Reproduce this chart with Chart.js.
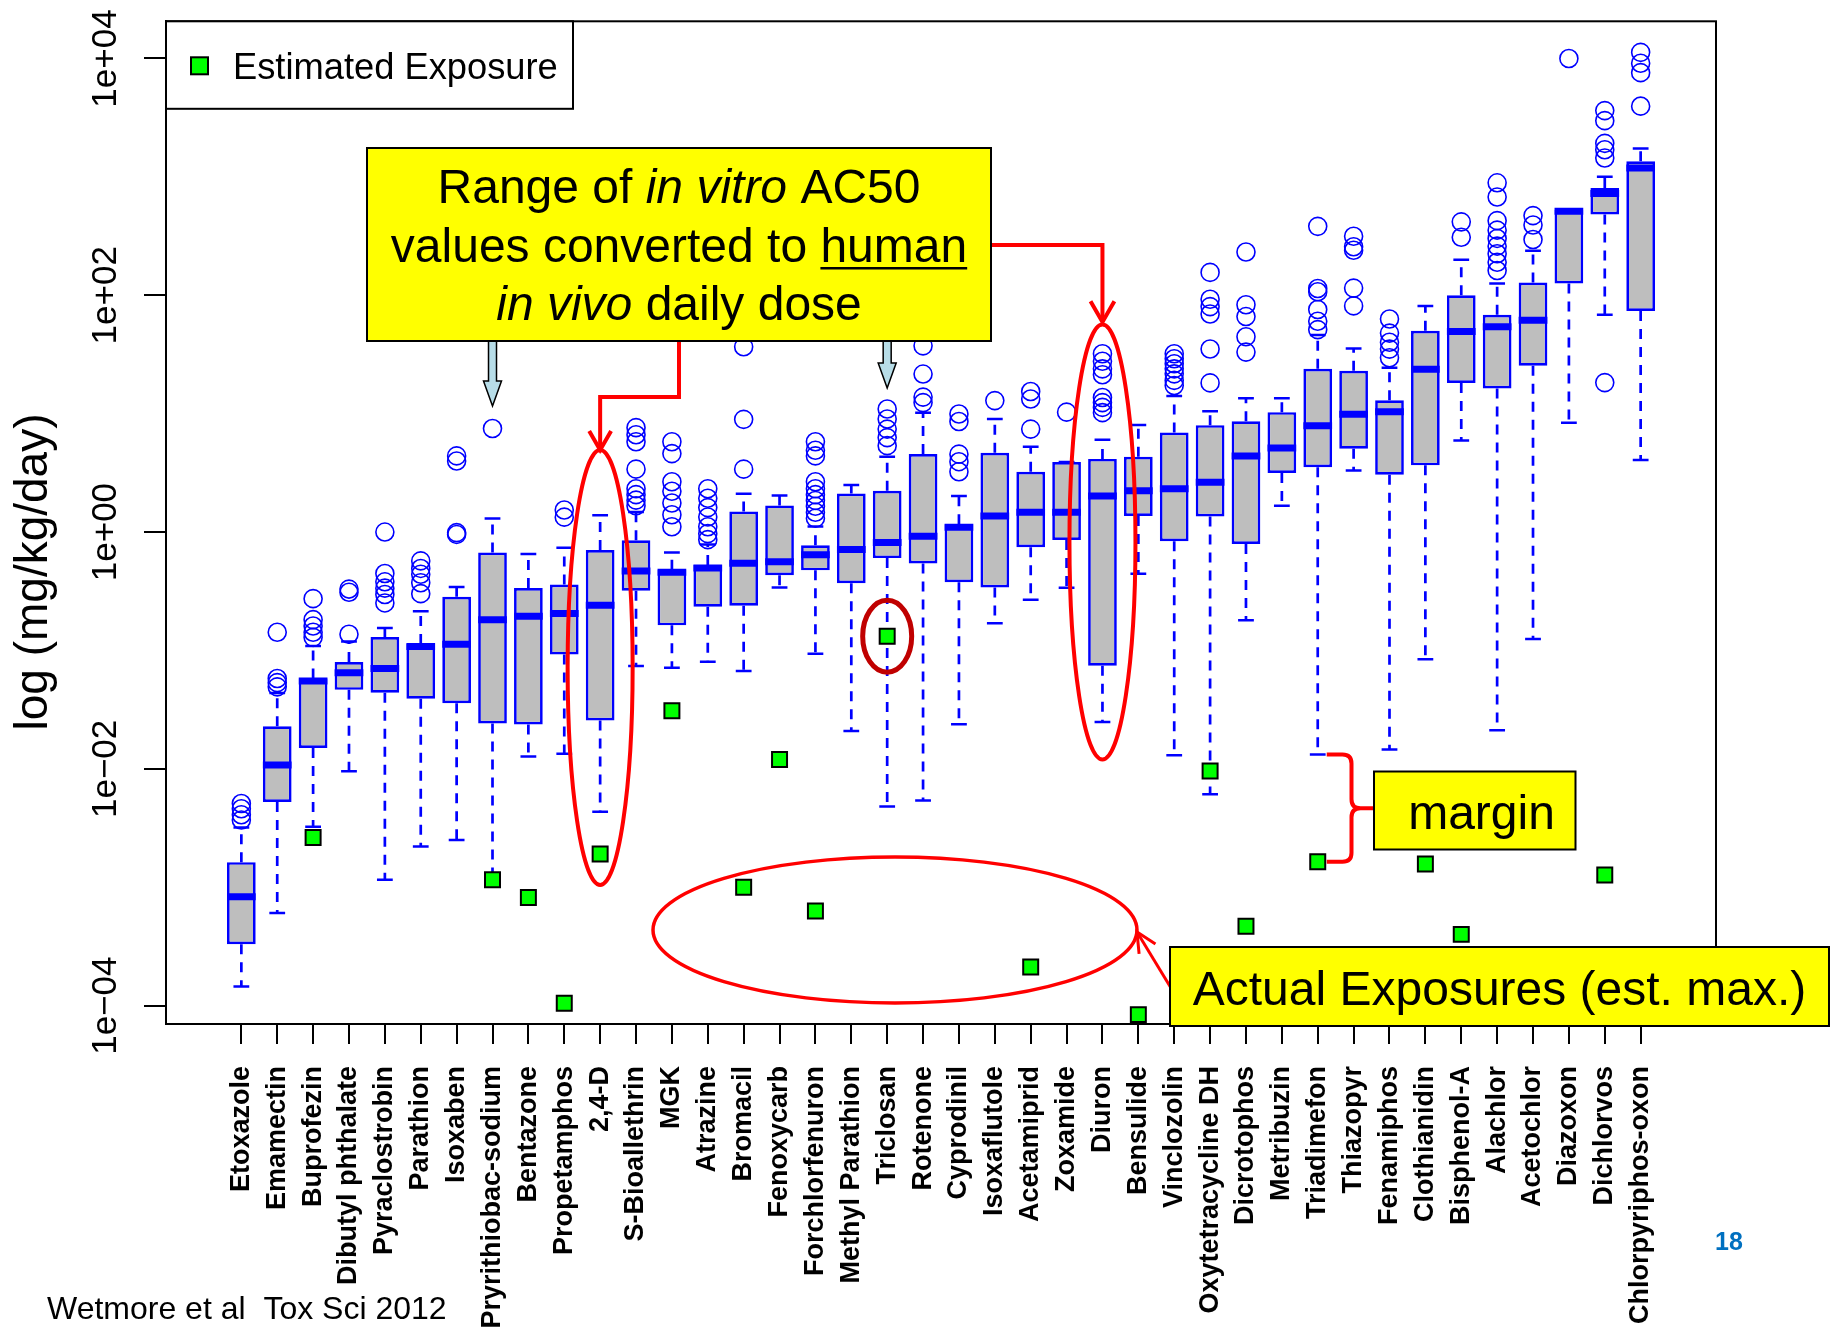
<!DOCTYPE html>
<html>
<head>
<meta charset="utf-8">
<script src="https://cdn.jsdelivr.net/npm/chart.js@4/dist/chart.umd.min.js"></script>
<style>
  html, body { margin: 0; padding: 0; background: #ffffff; }
  #wrap { width: 1833px; height: 1329px; position: relative; }
</style>
</head>
<body>
<div id="wrap"><canvas id="c"></canvas></div>
<script>
// Compounds, ordered along the x axis
const compounds = ['Etoxazole','Emamectin','Buprofezin','Dibutyl phthalate','Pyraclostrobin','Parathion',
  'Isoxaben','Pryrithiobac-sodium','Bentazone','Propetamphos','2,4-D','S-Bioallethrin','MGK','Atrazine',
  'Bromacil','Fenoxycarb','Forchlorfenuron','Methyl Parathion','Triclosan','Rotenone','Cyprodinil',
  'Isoxaflutole','Acetamiprid','Zoxamide','Diuron','Bensulide','Vinclozolin','Oxytetracycline DH',
  'Dicrotophos','Metribuzin','Triadimefon','Thiazopyr','Fenamiphos','Clothianidin','Bisphenol-A',
  'Alachlor','Acetochlor','Diazoxon','Dichlorvos','Chlorpyriphos-oxon'];

// Box plot statistics of the oral equivalent doses (mg/kg/day)
const whiskerLow = [1.45e-4, 6.05e-4, 3.24e-3, 9.55e-3, 1.16e-3, 2.21e-3, 2.51e-3, 1.23e-3, 0.0127, 0.0134,
  4.35e-3, 0.0741, 0.0715, 0.0802, 0.067, 0.341, 0.094, 0.0209, 4.8e-3, 5.4e-3,
  0.0238, 0.17, 0.268, 0.339, 0.0249, 0.444, 0.013, 6.1e-3, 0.18, 1.67,
  0.0132, 3.31, 0.0146, 0.0841, 5.94, 0.0212, 0.125, 8.38, 68.4, 4.07];
const quartile1 = [3.3e-4, 5.25e-3, 0.015, 0.0465, 0.0439, 0.0391, 0.0359, 0.0242, 0.0237, 0.0923,
  0.0256, 0.319, 0.163, 0.234, 0.239, 0.4325, 0.475, 0.37, 0.603, 0.543,
  0.377, 0.341, 0.746, 0.859, 0.0743, 1.37, 0.836, 1.355, 0.794, 3.15,
  3.53, 5.06, 3.05, 3.66, 18.2, 16.3, 25.4, 126, 482, 73.6];
const medians = [8.3e-4, 0.0108, 0.0552, 0.0649, 0.0705, 0.108, 0.113, 0.182, 0.195, 0.205,
  0.2415, 0.47, 0.457, 0.498, 0.546, 0.561, 0.643, 0.713, 0.818, 0.92,
  1.10, 1.37, 1.47, 1.47, 2.02, 2.23, 2.32, 2.64, 4.4, 5.12,
  7.91, 9.89, 10.4, 23.7, 49.4, 54.3, 61.5, 513, 724, 1189];
const quartile3 = [1.63e-3, 0.0229, 0.058, 0.08, 0.13, 0.1135, 0.284, 0.673, 0.3365, 0.361,
  0.705, 0.851, 0.48, 0.527, 1.49, 1.68, 0.773, 2.12, 2.23, 4.56,
  1.164, 4.68, 3.23, 3.91, 4.15, 4.33, 6.93, 8.0, 8.61, 10.3,
  23.9, 23.0, 13.0, 50.1, 100, 68.4, 128, 527, 804, 1355];
const whiskerHigh = [3.2e-3, 0.0437, 0.109, 0.119, 0.155, 0.214, 0.344, 1.30, 0.652, 0.738,
  1.39, 1.48, 0.673, 0.787, 2.11, 2.04, 1.114, 2.5, 4.33, 10.2,
  2.02, 9.0, 5.26, 3.91, 6.03, 8.02, 14.1, 10.5, 13.5, 13.5,
  46.2, 35.6, 24.4, 81.3, 200, 126, 238, 527, 1000, 1738];
const outliers = [
  [5.1e-3, 4.6e-3, 4.1e-3, 3.7e-3],
  [0.1426, 0.058, 0.0535, 0.0493],
  [0.274, 0.182, 0.161, 0.1426, 0.129],
  [0.33, 0.31, 0.137],
  [1.0, 0.447, 0.38, 0.336, 0.297, 0.252],
  [0.571, 0.493, 0.44, 0.373, 0.302],
  [4.4, 3.98, 0.989, 0.955],
  [7.5],
  [],
  [1.535, 1.337],
  [],
  [7.62, 6.64, 5.79, 3.4, 2.32, 2.07, 1.86, 1.67],
  [5.79, 4.6, 2.66, 2.21, 1.76, 1.40, 1.11],
  [2.32, 1.93, 1.61, 1.34, 1.11, 0.97, 0.863],
  [36.7, 8.95, 3.4],
  [],
  [5.79, 4.91, 4.4, 2.66, 2.32, 2.07, 1.85, 1.65, 1.47, 1.31],
  [],
  [10.96, 9.02, 7.41, 6.28, 5.37],
  [37.4, 21.6, 13.8, 12.4],
  [9.93, 8.59, 4.55, 3.93, 3.23],
  [12.9],
  [15.4, 13.3, 7.41],
  [10.3],
  [32.1, 27.7, 23.9, 21.3, 13.7, 12.4, 11.3, 10.2],
  [],
  [32.1, 29.1, 26.4, 23.9, 21.7, 19.1, 17.3],
  [156, 92.5, 80.2, 69.5, 35.2, 18.2],
  [232, 83.2, 66.1, 44.7, 33.1],
  [],
  [382, 114, 107, 75.9, 60.3, 51.3],
  [315, 257, 240, 115, 81.3],
  [63.1, 47.9, 40.1, 35.1, 29.7],
  [],
  [417, 309],
  [891, 676, 427, 355, 302, 260, 224, 190, 162],
  [471, 392, 296],
  [10000],
  [3630, 2985, 1919, 1694, 1445, 18.3],
  [11270, 9120, 7590, 3955]
];
// Estimated maximum human exposure (mg/kg/day); null where none is available
const exposures = [null, null, 2.63e-3, null, null, null, null, 1.16e-3, 8.2e-4, 1.05e-4,
  1.91e-3, null, 0.0309, null, 1.0e-3, 0.012, 6.3e-4, null, 0.132, null,
  null, null, 2.12e-4, null, null, 8.4e-5, null, 9.6e-3, 4.68e-4, null,
  1.64e-3, null, null, 1.57e-3, 4.0e-4, null, null, null, 1.27e-3, null];

const yTickValues = [1e-4, 1e-2, 1, 1e2, 1e4];
const yTickLabels = ['1e\u221204', '1e\u221202', '1e+00', '1e+02', '1e+04'];
const yAxisTitle = 'log (mg/kg/day)';
const legendLabel = 'Estimated Exposure';
const citation = 'Wetmore et al  Tox Sci 2012';
const pageNumber = '18';

const FONT = '"Liberation Sans", Arial, Helvetica, sans-serif';
const BLUE = '#0000FF';

// Pixel width of a span of x units
function unitPx(ctx, u, fallback) {
  const s = ctx.chart.scales && ctx.chart.scales.x;
  if (!s || !isFinite(s.getPixelForValue(0))) return fallback;
  return Math.abs(s.getPixelForValue(u) - s.getPixelForValue(0));
}

const pos = i => i + 1;
const boxData = compounds.map((_, i) => ({ x: pos(i), y: [quartile1[i], quartile3[i]] }));
const medianData = compounds.map((_, i) => ({ x: pos(i), y: medians[i] }));
const whiskerData = [];
const capData = [];
compounds.forEach((_, i) => {
  whiskerData.push({ x: pos(i), y: quartile1[i] }, { x: pos(i), y: whiskerLow[i] }, { x: pos(i), y: null });
  whiskerData.push({ x: pos(i), y: quartile3[i] }, { x: pos(i), y: whiskerHigh[i] }, { x: pos(i), y: null });
  capData.push({ x: pos(i), y: whiskerLow[i] }, { x: pos(i), y: whiskerHigh[i] });
});
const outlierData = [];
outliers.forEach((list, i) => list.forEach(v => outlierData.push({ x: pos(i), y: v })));
const exposureData = [];
exposures.forEach((v, i) => { if (v !== null) exposureData.push({ x: pos(i), y: v }); });

// ---------- drawing helpers for the overlaid annotations ----------
function yellowBox(ctx, x1, y1, x2, y2) {
  ctx.fillStyle = '#FFFF00';
  ctx.fillRect(x1, y1, x2 - x1, y2 - y1);
  ctx.strokeStyle = '#000';
  ctx.lineWidth = 2;
  ctx.strokeRect(x1, y1, x2 - x1, y2 - y1);
}
function ellipse(ctx, cx, cy, rx, ry, color, lw) {
  ctx.beginPath();
  ctx.ellipse(cx, cy, rx, ry, 0, 0, Math.PI * 2);
  ctx.strokeStyle = color;
  ctx.lineWidth = lw;
  ctx.stroke();
}
function openHead(ctx, fx, fy, tx, ty, len, spread) {
  const a = Math.atan2(ty - fy, tx - fx);
  ctx.beginPath();
  ctx.moveTo(tx - len * Math.cos(a - spread), ty - len * Math.sin(a - spread));
  ctx.lineTo(tx, ty);
  ctx.lineTo(tx - len * Math.cos(a + spread), ty - len * Math.sin(a + spread));
  ctx.stroke();
}
function blockArrowDown(ctx, x, y0, tip) {
  const sw = 4, hw = 9, hl = 25;
  ctx.beginPath();
  ctx.moveTo(x - sw, y0);
  ctx.lineTo(x + sw, y0);
  ctx.lineTo(x + sw, tip - hl);
  ctx.lineTo(x + hw, tip - hl);
  ctx.lineTo(x, tip);
  ctx.lineTo(x - hw, tip - hl);
  ctx.lineTo(x - sw, tip - hl);
  ctx.closePath();
  ctx.fillStyle = '#B7DDE8';
  ctx.fill();
  ctx.strokeStyle = '#000';
  ctx.lineWidth = 1.5;
  ctx.stroke();
}
// centred line of mixed upright / italic / underlined runs
function richLine(ctx, runs, cx, baseline, size) {
  const fontOf = r => (r.italic ? 'italic ' : '') + size + 'px ' + FONT;
  let total = 0;
  runs.forEach(r => { ctx.font = fontOf(r); r.w = ctx.measureText(r.text).width; total += r.w; });
  let x = cx - total / 2;
  ctx.textAlign = 'left';
  ctx.textBaseline = 'alphabetic';
  ctx.fillStyle = '#000';
  runs.forEach(r => {
    ctx.font = fontOf(r);
    ctx.fillText(r.text, x, baseline);
    if (r.underline) {
      ctx.fillRect(x, baseline + 5, r.w, 2.5);
    }
    x += r.w;
  });
}

const overlay = {
  id: 'overlay',
  afterDraw(chart) {
    const ctx = chart.ctx;
    const area = chart.chartArea;
    const xs = chart.scales.x, ys = chart.scales.y;
    const X = v => xs.getPixelForValue(v);
    const Y = v => ys.getPixelForValue(v);
    ctx.save();

    // plot frame
    ctx.strokeStyle = '#000';
    ctx.lineWidth = 2;
    ctx.strokeRect(area.left, area.top, area.right - area.left, area.bottom - area.top);

    // rotated y tick labels and axis title
    ctx.fillStyle = '#000';
    ctx.textAlign = 'center';
    ctx.textBaseline = 'alphabetic';
    ctx.font = '35px ' + FONT;
    yTickValues.forEach((v, i) => {
      ctx.save();
      ctx.translate(area.left - 50, Y(v));
      ctx.rotate(-Math.PI / 2);
      ctx.fillText(yTickLabels[i], 0, 0);
      ctx.restore();
    });
    ctx.save();
    ctx.translate(area.left - 119, 572);
    ctx.rotate(-Math.PI / 2);
    ctx.font = '46px ' + FONT;
    ctx.fillText(yAxisTitle, 0, 0);
    ctx.restore();

    // legend
    ctx.fillStyle = '#FFFFFF';
    ctx.fillRect(area.left, area.top, 407, 87.5);
    ctx.strokeStyle = '#000';
    ctx.lineWidth = 2;
    ctx.strokeRect(area.left, area.top, 407, 87.5);
    ctx.fillStyle = '#00FF00';
    ctx.fillRect(area.left + 25, area.top + 36, 17, 17);
    ctx.strokeRect(area.left + 25, area.top + 36, 17, 17);
    ctx.fillStyle = '#000';
    ctx.font = '36.3px ' + FONT;
    ctx.textAlign = 'left';
    ctx.fillText(legendLabel, area.left + 67, area.top + 58);

    // red ellipses
    ellipse(ctx, X(11), 667.5, 32.5, 217.5, '#FF0000', 4);
    ellipse(ctx, X(25), 542, 33, 217.5, '#FF0000', 4);
    ellipse(ctx, 895, 930, 242, 73, '#FF0000', 3.5);
    ellipse(ctx, X(19), Y(exposures[18]), 24.5, 36, '#C00000', 5);

    // connectors from the main call-out
    ctx.strokeStyle = '#FF0000';
    ctx.lineWidth = 4;
    ctx.lineJoin = 'miter';
    ctx.beginPath();
    ctx.moveTo(991, 245); ctx.lineTo(X(25), 245); ctx.lineTo(X(25), 322);
    ctx.stroke();
    openHead(ctx, X(25), 245, X(25), 322, 24, 0.52);
    ctx.beginPath();
    ctx.moveTo(679, 341); ctx.lineTo(679, 397); ctx.lineTo(X(11), 397); ctx.lineTo(X(11), 450);
    ctx.stroke();
    openHead(ctx, X(11), 397, X(11), 450, 22, 0.52);

    blockArrowDown(ctx, X(8), 341, 406);
    blockArrowDown(ctx, X(19), 341, 388);

    // main call-out box
    yellowBox(ctx, 367, 148, 991, 341);
    richLine(ctx, [{ text: 'Range of ' }, { text: 'in vitro', italic: true }, { text: ' AC50' }], 679, 203, 48);
    richLine(ctx, [{ text: 'values converted to ' }, { text: 'human', underline: true }], 679, 262, 48);
    richLine(ctx, [{ text: 'in vivo', italic: true }, { text: ' daily dose' }], 679, 320, 48);

    // margin brace between lowest dose and exposure of Triadimefon
    const yt = Y(whiskerLow[30]), yb = Y(exposures[30]), ym = (yt + yb) / 2;
    const xl = X(31) + 9, xv = 1351.5, xt = 1374, r = 9;
    ctx.strokeStyle = '#FF0000';
    ctx.lineWidth = 4;
    ctx.beginPath();
    ctx.moveTo(xl, yt); ctx.lineTo(xv - r, yt); ctx.quadraticCurveTo(xv, yt, xv, yt + r);
    ctx.lineTo(xv, ym - r); ctx.quadraticCurveTo(xv, ym, xv + r, ym); ctx.lineTo(xt, ym);
    ctx.moveTo(xv + r, ym); ctx.quadraticCurveTo(xv, ym, xv, ym + r);
    ctx.lineTo(xv, yb - r); ctx.quadraticCurveTo(xv, yb, xv - r, yb); ctx.lineTo(xl, yb);
    ctx.stroke();
    yellowBox(ctx, 1374, 771.5, 1575.5, 849.5);
    ctx.fillStyle = '#000';
    ctx.font = '48px ' + FONT;
    ctx.textAlign = 'center';
    ctx.fillText('margin', 1481.5, 829);

    // actual exposures call-out
    ctx.strokeStyle = '#FF0000';
    ctx.lineWidth = 3;
    ctx.beginPath(); ctx.moveTo(1171, 988); ctx.lineTo(1137, 932); ctx.stroke();
    openHead(ctx, 1171, 988, 1137, 932, 22, 0.45);
    yellowBox(ctx, 1170, 947, 1829, 1026);
    ctx.fillStyle = '#000';
    ctx.font = '48px ' + FONT;
    ctx.textAlign = 'center';
    ctx.fillText('Actual Exposures (est. max.)', 1499.5, 1005);

    // citation and page number
    ctx.textAlign = 'left';
    ctx.font = '32px ' + FONT;
    ctx.fillText(citation, 47, 1319);
    ctx.textAlign = 'center';
    ctx.font = 'bold 25px ' + FONT;
    ctx.fillStyle = '#0070C0';
    ctx.fillText(pageNumber, 1729, 1250);

    ctx.restore();
  }
};

new Chart(document.getElementById('c'), {
  type: 'bar',
  data: {
    datasets: [
      {
        type: 'scatter', label: legendLabel, data: exposureData, order: 0,
        pointStyle: 'rect', pointRadius: 10.6, pointBackgroundColor: '#00FF00',
        pointBorderColor: '#000000', pointBorderWidth: 2
      },
      {
        type: 'scatter', label: 'median', data: medianData, order: 1,
        pointStyle: 'line', pointBorderColor: BLUE, pointBorderWidth: 7,
        pointRadius: ctx => unitPx(ctx, 0.4, 14.3)
      },
      {
        type: 'bar', label: 'box', data: boxData, order: 2,
        backgroundColor: '#BEBEBE', borderColor: BLUE, borderWidth: 2.7, borderSkipped: false,
        barPercentage: 0.8, categoryPercentage: 1
      },
      {
        type: 'scatter', label: 'caps', data: capData, order: 3,
        pointStyle: 'line', pointBorderColor: BLUE, pointBorderWidth: 2.5,
        pointRadius: ctx => unitPx(ctx, 0.22, 8)
      },
      {
        type: 'line', label: 'whiskers', data: whiskerData, order: 4,
        borderColor: BLUE, borderWidth: 2.7, borderDash: [10, 8], pointRadius: 0,
        spanGaps: false, fill: false, tension: 0
      },
      {
        type: 'scatter', label: 'outliers', data: outlierData, order: 5,
        pointStyle: 'circle', pointRadius: 9, pointBorderColor: BLUE, pointBorderWidth: 1.6,
        pointBackgroundColor: 'rgba(0,0,0,0)'
      }
    ]
  },
  options: {
    responsive: true,
    maintainAspectRatio: false,
    animation: false,
    events: [],
    layout: { padding: { left: 0, top: 20, right: 117, bottom: 0 } },
    plugins: { legend: { display: false }, tooltip: { enabled: false } },
    scales: {
      x: {
        type: 'linear', min: -1.1, max: 42.1, offset: false,
        afterBuildTicks: s => { s.ticks = compounds.map((_, i) => ({ value: pos(i) })); },
        afterFit: s => { s.height = 305; },
        ticks: {
          autoSkip: false, minRotation: 90, maxRotation: 90, padding: 22, color: '#000',
          font: { family: FONT, size: 27, weight: 'bold' },
          callback: (v, i) => compounds[i]
        },
        grid: { offset: false, drawOnChartArea: false, drawTicks: true, tickLength: 20, color: '#000', lineWidth: 2 },
        border: { display: true, color: '#000', width: 2 }
      },
      y: {
        type: 'logarithmic', min: Math.pow(10, -4.144), max: Math.pow(10, 4.314),
        afterBuildTicks: s => { s.ticks = yTickValues.map(v => ({ value: v })); },
        afterFit: s => { s.width = 166; },
        ticks: { color: 'rgba(0,0,0,0)', callback: (v, i) => yTickLabels[i] },
        grid: { offset: false, drawOnChartArea: false, drawTicks: true, tickLength: 22, color: '#000', lineWidth: 2 },
        border: { display: true, color: '#000', width: 2 }
      }
    }
  },
  plugins: [overlay]
});
</script>
</body>
</html>
